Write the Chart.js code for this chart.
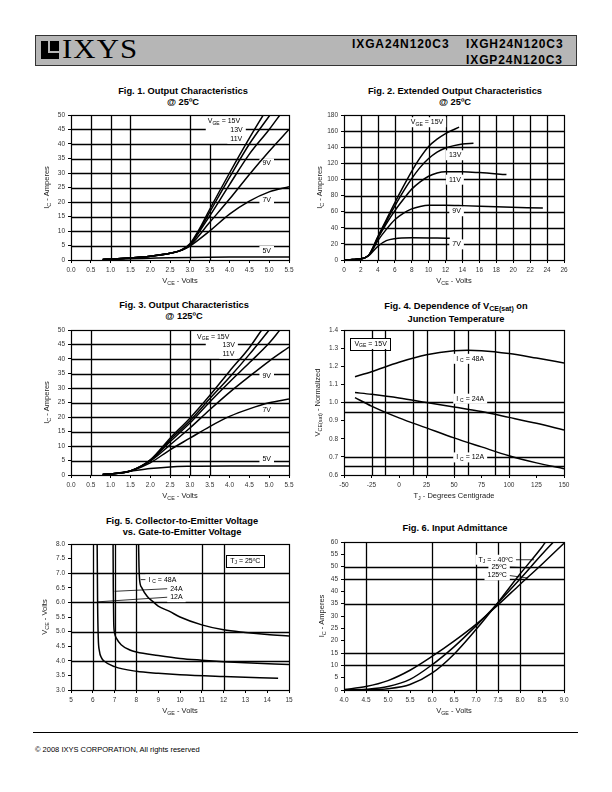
<!DOCTYPE html>
<html>
<head>
<meta charset="utf-8">
<script src="https://cdn.jsdelivr.net/npm/chart.js@4.4.1/dist/chart.umd.min.js"></script>
<style>
body { margin:0; width:612px; height:792px; position:relative; background:#fff; font-family:"Liberation Sans", Arial, sans-serif; }
#hdr { position:absolute; left:35px; top:35px; width:542px; height:31px; box-sizing:border-box; background:#b6b6b6; border:1px solid #333; }
#icon { position:absolute; left:41px; top:41px; width:18px; height:18px; background:#000; }
#icon .v { position:absolute; left:7px; top:0; width:2px; height:12px; background:#b6b6b6; }
#icon .h { position:absolute; left:7px; top:10px; width:11px; height:2px; background:#b6b6b6; }
#logo { position:absolute; left:62px; top:34px; font-family:"Liberation Serif", "DejaVu Serif", serif; font-size:28px; letter-spacing:1px; line-height:30px; transform:scaleX(1.1); transform-origin:left top; }
.pn { position:absolute; font-weight:bold; font-size:12px; letter-spacing:0.9px; line-height:14px; }
.ttl { position:absolute; width:300px; text-align:center; font-weight:bold; font-size:9.3px; line-height:11px; }
.ttl sub { font-size:7px; vertical-align:-2px; line-height:0; }
canvas { position:absolute; }
#foot { position:absolute; left:33px; top:732px; width:545px; height:1px; background:#000; }
#copy { position:absolute; left:35px; top:745px; font-size:7.5px; }
</style>
</head>
<body>
<div id="hdr"></div>
<div id="icon"><div class="v"></div><div class="h"></div></div>
<div id="logo">IXYS</div>
<div class="pn" style="left:352px;top:37px">IXGA24N120C3</div>
<div class="pn" style="left:466px;top:37px">IXGH24N120C3</div>
<div class="pn" style="left:466px;top:53px">IXGP24N120C3</div>

<div class="ttl" style="left:33px;top:86px">Fig. 1. Output Characteristics<br>@ 25ºC</div>
<div class="ttl" style="left:305px;top:86px">Fig. 2. Extended Output Characteristics<br>@ 25ºC</div>
<div class="ttl" style="left:34px;top:300px">Fig. 3. Output Characteristics<br>@ 125ºC</div>
<div class="ttl" style="left:306px;top:300px;line-height:13px">Fig. 4. Dependence of V<sub>CE(sat)</sub> on<br>Junction Temperature</div>
<div class="ttl" style="left:32px;top:516px">Fig. 5. Collector-to-Emitter Voltage<br>vs. Gate-to-Emitter Voltage</div>
<div class="ttl" style="left:305px;top:523px">Fig. 6. Input Admittance</div>

<canvas id="c1" width="280" height="195" style="left:20px;top:100px"></canvas>
<canvas id="c2" width="280" height="195" style="left:300px;top:100px"></canvas>
<canvas id="c3" width="280" height="195" style="left:20px;top:315px"></canvas>
<canvas id="c4" width="280" height="195" style="left:300px;top:315px"></canvas>
<canvas id="c5" width="280" height="196" style="left:20px;top:529px"></canvas>
<canvas id="c6" width="280" height="196" style="left:300px;top:529px"></canvas>

<div id="foot"></div>
<div id="copy">© 2008 IXYS CORPORATION, All rights reserved</div>

<script>
// ---- Fig. 1  (VCE, IC) at 25C
const f1_15V = [[0.8,0.2],[1.0,0.3],[1.5,0.7],[2.0,1.3],[2.5,2.3],[2.8,3.6],[3.0,5.6],[3.25,11],[3.5,17.5],[4.0,30],[4.5,42],[4.85,50]];
const f1_13V = [[0.8,0.2],[1.0,0.3],[1.5,0.7],[2.0,1.3],[2.5,2.3],[2.8,3.5],[3.0,5.4],[3.25,10.5],[3.5,16.5],[4.0,28.5],[4.5,40],[5.02,50]];
const f1_11V = [[0.8,0.2],[1.0,0.3],[1.5,0.7],[2.0,1.3],[2.5,2.3],[2.8,3.5],[3.0,5.2],[3.25,10],[3.5,15.2],[4.0,26],[4.5,36.5],[5.0,45],[5.27,50]];
const f1_9V  = [[0.8,0.2],[1.0,0.3],[1.5,0.7],[2.0,1.3],[2.5,2.3],[2.8,3.4],[3.0,5.0],[3.5,13],[4.0,21],[4.5,29.5],[5.0,37.5],[5.5,45]];
const f1_7V  = [[0.8,0.2],[1.0,0.3],[1.5,0.7],[2.0,1.3],[2.5,2.3],[2.8,3.4],[3.0,4.8],[3.5,10],[4.0,15.8],[4.5,20.3],[5.0,23.5],[5.5,25.3]];
const f1_5V  = [[0.8,0.1],[1.5,0.4],[2.0,0.6],[2.5,0.8],[3.0,0.9],[4.0,1.0],[5.5,1.0]];

// ---- Fig. 2  extended output at 25C
const f2_15V = [[0,0],[1,0.5],[2,1.5],[2.5,3],[3,7],[4,29],[5,50],[6,71],[7,91],[8,110],[9,127],[10,141],[11,150],[12,157],[13,162],[13.6,165]];
const f2_13V = [[0,0],[1,0.5],[2,1.5],[2.5,3],[3,7],[4,28],[5,48],[6,67],[7,85],[8,101],[9,115],[10,126],[11,134],[12,139],[13,142],[14,144],[15.3,145]];
const f2_11V = [[0,0],[1,0.5],[2,1.5],[2.5,3],[3,7],[4,27],[5,45],[6,61],[7,75],[8,88],[9,97],[10,104],[11,108],[12,109.5],[14,109.5],[16,108.5],[19.2,106]];
const f2_9V  = [[0,0],[1,0.5],[2,1.5],[2.5,3],[3,6.5],[4,24],[5,38],[6,50],[7,58],[8,63.5],[9,66.5],[10,68],[12,68],[14,67.5],[18,66],[23.5,64.5]];
const f2_7V  = [[0,0],[1,0.5],[2,1.5],[2.5,3],[3,6],[4,17],[5,24],[6,26.5],[8,27.5],[12.5,27]];

// ---- Fig. 3  output at 125C
const f3_15V = [[0.8,0.2],[1.0,0.4],[1.5,1.4],[2.0,5.2],[2.5,12.7],[3.0,19.6],[3.5,27.4],[4.0,35.8],[4.5,43.9],[4.81,50]];
const f3_13V = [[0.8,0.2],[1.0,0.4],[1.5,1.4],[2.0,5.1],[2.5,12.1],[3.0,18.7],[3.5,26.3],[4.0,33.7],[4.5,41.6],[5.0,50]];
const f3_11V = [[0.8,0.2],[1.0,0.4],[1.5,1.4],[2.0,5.0],[2.5,11.5],[3.0,17.9],[3.5,25.2],[4.0,32.1],[4.5,38.7],[5.0,45.5],[5.27,50]];
const f3_9V  = [[0.8,0.2],[1.0,0.4],[1.5,1.4],[2.0,4.8],[2.5,10.4],[3.0,16.2],[3.5,22.5],[4.0,28.5],[4.5,34],[5.0,39.3],[5.5,44.1]];
const f3_7V  = [[0.8,0.2],[1.0,0.4],[1.5,1.4],[2.0,4.2],[2.5,8.7],[3.0,12.7],[3.5,16.7],[4.0,20.2],[4.5,22.8],[5.0,24.9],[5.5,26.2]];
const f3_5V  = [[0.8,0.2],[1.0,0.4],[1.5,1.3],[2.0,2.2],[2.5,2.8],[3.0,3.0],[4.0,3.1],[5.5,3.1]];

// ---- Fig. 4  VCE(sat) normalized vs TJ
const f4_48A = [[-40,1.142],[-25,1.17],[0,1.222],[25,1.263],[50,1.285],[62.5,1.288],[75,1.286],[100,1.27],[125,1.245],[150,1.218]];
const f4_24A = [[-40,1.055],[-25,1.045],[0,1.025],[25,1.0],[50,0.975],[75,0.95],[100,0.918],[125,0.885],[150,0.848]];
const f4_12A = [[-40,1.027],[-25,0.98],[0,0.915],[25,0.86],[50,0.805],[75,0.755],[100,0.706],[125,0.667],[150,0.635]];

// ---- Fig. 5  VCE vs VGE
const f5_48A = [[8.1,8.0],[8.12,7.2],[8.15,6.75],[8.25,6.5],[8.5,6.2],[8.8,6.0],[9,5.87],[9.5,5.7],[10,5.5],[11,5.23],[12,5.06],[13,4.97],[14,4.9],[15,4.85]];
const f5_24A = [[6.93,8.0],[6.94,6.5],[6.96,5.3],[7.0,4.95],[7.1,4.75],[7.3,4.55],[7.7,4.37],[8,4.3],[9,4.18],[10,4.08],[11,4.02],[12,3.97],[13,3.93],[15,3.87]];
const f5_12A = [[6.2,8.0],[6.21,7.0],[6.22,6.0],[6.25,4.8],[6.3,4.35],[6.4,4.1],[6.5,4.0],[7.0,3.8],[8,3.64],[9,3.57],[10,3.52],[12,3.46],[14.5,3.4]];

// ---- Fig. 6  input admittance
const f6_m40 = [[4.0,0],[4.5,0.05],[5.0,0.5],[5.5,2.2],[6.0,6.8],[6.5,14.5],[7.0,24.5],[7.5,35.5],[8.0,47],[8.5,58],[8.58,60]];
const f6_25  = [[4.0,0],[4.5,0.3],[5.0,1.4],[5.5,4.3],[6.0,10.2],[6.5,17.5],[7.0,26],[7.5,35.3],[8.0,45],[8.5,55],[8.76,60]];
const f6_125 = [[4.0,0.2],[4.5,1.4],[5.0,3.8],[5.5,8],[6.0,13.6],[6.5,19.8],[7.0,26.6],[7.5,34.5],[8.0,42.8],[8.5,51],[9.0,59.5]];

const FONT = '"Liberation Sans", Arial, sans-serif';

// "V_{GE} = 15V" -> [['V',0],['GE',1],[' = 15V',0]]
function parse(s) {
    const out = [];
    const re = /_\{([^}]*)\}/g;
    let last = 0, m;
    while ((m = re.exec(s))) {
        if (m.index > last) out.push([s.slice(last, m.index), 0]);
        out.push([m[1], 1]);
        last = re.lastIndex;
    }
    if (last < s.length) out.push([s.slice(last), 0]);
    return out;
}

function richWidth(ctx, parts, size) {
    let w = 0;
    parts.forEach(p => {
        ctx.font = (p[1] ? size * 0.72 : size) + 'px ' + FONT;
        w += ctx.measureText(p[0]).width;
    });
    return w;
}

function drawRich(ctx, s, x, y, size, align) {
    const parts = parse(s);
    const w = richWidth(ctx, parts, size);
    let cx = align === 'right' ? x - w : align === 'center' ? x - w / 2 : x;
    ctx.textBaseline = 'middle';
    ctx.textAlign = 'left';
    parts.forEach(p => {
        ctx.font = (p[1] ? size * 0.72 : size) + 'px ' + FONT;
        ctx.fillText(p[0], cx, p[1] ? y + size * 0.3 : y);
        cx += ctx.measureText(p[0]).width;
    });
}

function deco(spec) {
    return {
        id: 'deco',
        beforeDatasetsDraw(chart) {
            const {ctx, scales: {x, y}} = chart;
            ctx.save();
            ctx.strokeStyle = '#000';
            ctx.lineWidth = 1.3;
            (spec.gridX || []).forEach(g => {
                const [v, a = y.min, b = y.max] = [].concat(g);
                const px = Math.round(x.getPixelForValue(v)) + 0.5;
                ctx.beginPath();
                ctx.moveTo(px, y.getPixelForValue(a));
                ctx.lineTo(px, y.getPixelForValue(b));
                ctx.stroke();
            });
            (spec.gridY || []).forEach(g => {
                const [v, a = x.min, b = x.max] = [].concat(g);
                const py = Math.round(y.getPixelForValue(v)) + 0.5;
                ctx.beginPath();
                ctx.moveTo(x.getPixelForValue(a), py);
                ctx.lineTo(x.getPixelForValue(b), py);
                ctx.stroke();
            });
            // leader lines
            ctx.lineWidth = 0.8;
            (spec.leaders || []).forEach(l => {
                ctx.beginPath();
                ctx.moveTo(x.getPixelForValue(l[0]), y.getPixelForValue(l[1]));
                ctx.lineTo(x.getPixelForValue(l[2]), y.getPixelForValue(l[3]));
                ctx.stroke();
            });
            // text labels on white
            const size = 7;
            (spec.labels || []).forEach(l => {
                const px = x.getPixelForValue(l.x), py = y.getPixelForValue(l.y);
                const w = richWidth(ctx, parse(l.t), size);
                const x0 = l.align === 'right' ? px - w : px;
                ctx.fillStyle = '#fff';
                ctx.fillRect(x0 - 3, py - 5, w + 6, 10);
                if (l.box) {
                    ctx.strokeStyle = '#000';
                    ctx.lineWidth = 1;
                    ctx.strokeRect(Math.round(x0 - 4) + 0.5, Math.round(py - 6) + 0.5, Math.round(w + 8), 12);
                }
                ctx.fillStyle = '#000';
                drawRich(ctx, l.t, px, py, size, l.align || 'left');
            });
            ctx.restore();
        },
        afterDraw(chart) {
            const {ctx, chartArea: a} = chart;
            ctx.save();
            ctx.strokeStyle = '#000';
            ctx.lineWidth = 1.2;
            ctx.strokeRect(Math.round(a.left) + 0.5, Math.round(a.top) + 0.5, Math.round(a.right - a.left), Math.round(a.bottom - a.top));
            ctx.fillStyle = '#222';
            drawRich(ctx, spec.xTitle, (a.left + a.right) / 2, a.bottom + 21, 7.5, 'center');
            ctx.translate(a.left - (spec.yOff || 24), (a.top + a.bottom) / 2);
            ctx.rotate(-Math.PI / 2);
            drawRich(ctx, spec.yTitle, 0, 0, 7.5, 'center');
            ctx.restore();
        }
    };
}

function axis(min, max, step, fmt) {
    return {
        type: 'linear', min: min, max: max,
        ticks: {
            stepSize: step, autoSkip: false, maxRotation: 0, padding: 3,
            color: '#333', font: {size: 6.5, family: FONT},
            callback: v => fmt ? v.toFixed(fmt) : Math.round(v)
        },
        grid: {drawOnChartArea: false, tickLength: 3, color: '#000'},
        border: {color: '#000', width: 1}
    };
}

function makeChart(id, spec) {
    const xs = axis(spec.x[0], spec.x[1], spec.x[2], spec.x[3]);
    const ys = axis(spec.y[0], spec.y[1], spec.y[2], spec.y[3]);
    xs.afterFit = s => { s.height = 35; };
    ys.afterFit = s => { s.width = spec.yw; };
    return new Chart(document.getElementById(id), {
        type: 'scatter',
        data: {
            datasets: spec.curves.map(c => ({
                data: c.map(p => ({x: p[0], y: p[1]})),
                showLine: true, borderColor: '#000', borderWidth: 1.5,
                pointRadius: 0, cubicInterpolationMode: 'monotone', fill: false
            }))
        },
        options: {
            responsive: false, animation: false,
            layout: {padding: {top: spec.top, right: spec.right, left: 0, bottom: 0}},
            plugins: {legend: {display: false}, tooltip: {enabled: false}},
            scales: {x: xs, y: ys}
        },
        plugins: [deco(spec)]
    });
}

makeChart('c1', {
    x: [0, 5.5, 0.5, 1], y: [0, 50, 5], yw: 51, top: 15, right: 11,
    curves: [f1_15V, f1_13V, f1_11V, f1_9V, f1_7V, f1_5V],
    gridX: [0.5, 1, 1.5, 3, [3.5, 0, 40]],
    gridY: [5, 10, 15, 20, 25, 30, 35, 40, [45, 0, 3.4], [45, 4.0, 5.5]],
    labels: [
        {t: 'V_{GE} = 15V', x: 3.45, y: 47.8},
        {t: '13V', x: 4.02, y: 44.8},
        {t: '11V', x: 4.02, y: 41.8},
        {t: '9V', x: 4.83, y: 33.3},
        {t: '7V', x: 4.83, y: 20.6},
        {t: '5V', x: 4.83, y: 3.1}
    ],
    xTitle: 'V_{CE} - Volts', yTitle: 'I_{C} - Amperes'
});

makeChart('c2', {
    x: [0, 26, 2], y: [0, 180, 20], yw: 44, top: 15, right: 16,
    curves: [f2_15V, f2_13V, f2_11V, f2_9V, f2_7V],
    gridX: [2, 4, 6, 8, 10, 12, 14, 16, 18, 20, 22, 24],
    gridY: [20, 40, 60, 80, 100, 120, 140, 160],
    labels: [
        {t: 'V_{GE} = 15V', x: 7.9, y: 171},
        {t: '13V', x: 12.4, y: 130},
        {t: '11V', x: 12.4, y: 99.7},
        {t: '9V', x: 12.8, y: 60.5},
        {t: '7V', x: 12.8, y: 19.4}
    ],
    xTitle: 'V_{CE} - Volts', yTitle: 'I_{C} - Amperes'
});

makeChart('c3', {
    x: [0, 5.5, 0.5, 1], y: [0, 50, 5], yw: 51, top: 15, right: 11,
    curves: [f3_15V, f3_13V, f3_11V, f3_9V, f3_7V, f3_5V],
    gridX: [0.5, 2.5, 3, [3.5, 0, 40]],
    gridY: [5, 10, 15, 20, 25, 30, 35, 40, [45, 0, 3.4], [45, 4.1, 5.5]],
    labels: [
        {t: 'V_{GE} = 15V', x: 3.18, y: 47.6},
        {t: '13V', x: 3.82, y: 44.8},
        {t: '11V', x: 3.82, y: 41.8},
        {t: '9V', x: 4.83, y: 34},
        {t: '7V', x: 4.83, y: 22.5},
        {t: '5V', x: 4.83, y: 5.4}
    ],
    xTitle: 'V_{CE} - Volts', yTitle: 'I_{C} - Amperes'
});

makeChart('c4', {
    x: [-50, 150, 25], y: [0.6, 1.4, 0.1, 1], yw: 44, top: 15, right: 16,
    curves: [f4_48A, f4_24A, f4_12A],
    gridX: [-25, -12.5, 12.5, 25, 50, 62.5, 87.5, 100],
    gridY: [1.0, 0.95, 0.7, 0.65],
    labels: [
        {t: 'V_{GE} = 15V', x: -40.5, y: 1.323, box: true},
        {t: 'I _{C} = 48A', x: 52, y: 1.241},
        {t: 'I _{C} = 24A', x: 52, y: 1.021},
        {t: 'I _{C} = 12A', x: 52, y: 0.697}
    ],
    xTitle: 'T_{J} - Degrees Centigrade', yTitle: 'V_{CE(sat)} - Normalized', yOff: 26
});

makeChart('c5', {
    x: [5, 15, 1], y: [3, 8, 0.5, 1], yw: 51, top: 15, right: 11,
    curves: [f5_48A, f5_24A, f5_12A],
    gridX: [6, 7, 8, 11, 12],
    gridY: [7, 6, 5, 4],
    leaders: [[8.2, 6.78, 8.48, 6.78], [7.0, 6.38, 9.47, 6.47], [6.24, 6.02, 9.47, 6.18]],
    labels: [
        {t: 'T_{J} = 25ºC', x: 12.3, y: 7.43, box: true},
        {t: 'I _{C} = 48A', x: 8.55, y: 6.78},
        {t: '24A', x: 9.55, y: 6.47},
        {t: '12A', x: 9.55, y: 6.18}
    ],
    xTitle: 'V_{GE} - Volts', yTitle: 'V_{CE} - Volts', yOff: 26
});

makeChart('c6', {
    x: [4, 9, 0.5, 1], y: [0, 60, 5], yw: 44, top: 13, right: 16,
    curves: [f6_m40, f6_25, f6_125],
    gridX: [4.5, 6, 7, 7.5, 8],
    gridY: [50, 45, 35, 15, 10],
    leaders: [[7.86, 52.8, 8.32, 52.8], [7.72, 49.9, 8.2, 49.5], [7.72, 46.5, 8.18, 45.4]],
    labels: [
        {t: 'T_{J} = - 40ºC', x: 7.84, y: 52.8, align: 'right'},
        {t: '25ºC', x: 7.7, y: 49.9, align: 'right'},
        {t: '125ºC', x: 7.7, y: 46.5, align: 'right'}
    ],
    xTitle: 'V_{GE} - Volts', yTitle: 'I_{C} - Amperes', yOff: 22
});
</script>
</body>
</html>
